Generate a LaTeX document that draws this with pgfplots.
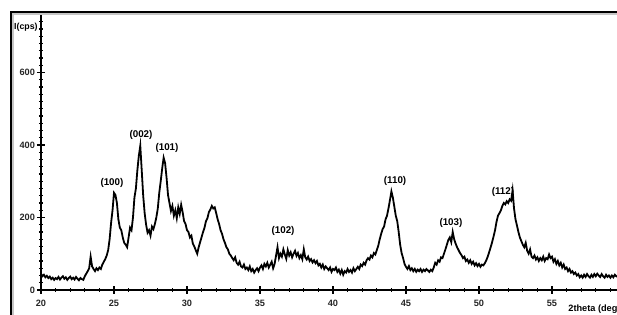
\documentclass[border=0pt]{standalone}
\usepackage{pgfplots}
\pgfplotsset{compat=1.18}
\usepackage{fontspec}
\setmainfont{Liberation Sans}
\begin{document}
\begin{tikzpicture}
\useasboundingbox (0,0) rectangle (308.5pt,157.5pt);
\clip (0,0) rectangle (308.5pt,157.5pt);
% outer frame
\draw[gray!45, line width=1pt] (6.7pt,-5pt) -- (6.7pt,150.3pt) -- (320pt,150.3pt);
\draw[black, line width=1.1pt] (5.5pt,-5pt) -- (5.5pt,151.5pt) -- (320pt,151.5pt);
\begin{axis}[
  at={(20.5pt,12.5pt)}, anchor=south west,
  scale only axis, width=292pt, height=137.75pt,
  xmin=20, xmax=60, ymin=0, ymax=760,
  axis x line=bottom, axis y line=left,
  axis line style={-, line width=0.8pt},
  xtick={20,25,...,55}, ytick={0,200,400,600},
  minor xtick={21,22,23,24,26,27,28,29,31,32,33,34,36,37,38,39,41,42,43,44,46,47,48,49,51,52,53,54,56,57,58,59},
  minor ytick={20,40,...,740},
  tick align=center,
  major tick length=4pt, minor tick length=2pt,
  every tick/.style={black, line width=0.6pt},
  tick label style={font=\fontsize{4.6}{5.5}\selectfont\bfseries, black!85},
  /pgf/number format/assume math mode=true,
  xticklabel style={yshift=0.5pt},
  yticklabel style={xshift=2.5pt},
  clip=false,
]
\addplot[black, line width=0.9pt] coordinates {
(20.0,45) (20.1,38) (20.2,42) (20.3,35) (20.4,39) (20.5,33) (20.6,37) (20.7,30) (20.8,34) (20.9,28)
(21.0,33) (21.1,30) (21.2,36) (21.3,29) (21.4,34) (21.5,38) (21.6,31) (21.7,35) (21.8,28) (21.9,33)
(22.0,37) (22.1,30) (22.2,34) (22.3,29) (22.4,36) (22.5,31) (22.6,27) (22.7,33) (22.8,30) (22.9,28)
(23.0,38) (23.1,45) (23.2,52) (23.3,60) (23.4,92) (23.5,65) (23.6,58) (23.7,52) (23.8,60) (23.9,55)
(24.0,62) (24.1,58) (24.2,70) (24.3,78) (24.4,85) (24.5,95) (24.6,110) (24.7,140) (24.8,185) (24.9,220)
(25.0,268) (25.1,262) (25.2,240) (25.3,195) (25.4,172) (25.5,165) (25.6,145) (25.7,130) (25.8,125) (25.9,118)
(26.0,145) (26.1,172) (26.2,165) (26.3,200) (26.4,255) (26.5,280) (26.6,330) (26.7,370) (26.8,398) (26.9,330)
(27.0,260) (27.1,212) (27.2,180) (27.3,158) (27.4,165) (27.5,150) (27.6,175) (27.7,168) (27.8,182) (27.9,200)
(28.0,225) (28.1,268) (28.2,300) (28.3,335) (28.4,365) (28.5,350) (28.6,310) (28.7,262) (28.8,240) (28.9,218)
(29.0,232) (29.1,205) (29.2,220) (29.3,198) (29.4,228) (29.5,210) (29.6,235) (29.7,215) (29.8,190) (29.9,182)
(30.0,165) (30.1,160) (30.2,145) (30.3,150) (30.4,128) (30.5,120) (30.6,110) (30.7,100) (30.8,118) (30.9,132)
(31.0,146) (31.1,160) (31.2,172) (31.3,190) (31.4,198) (31.5,215) (31.6,222) (31.7,232) (31.8,225) (31.9,228)
(32.0,212) (32.1,195) (32.2,182) (32.3,165) (32.4,155) (32.5,140) (32.6,130) (32.7,118) (32.8,112) (32.9,100)
(33.0,95) (33.1,88) (33.2,82) (33.3,90) (33.4,75) (33.5,70) (33.6,78) (33.7,65) (33.8,62) (33.9,70)
(34.0,58) (34.1,62) (34.2,55) (34.3,65) (34.4,52) (34.5,58) (34.6,48) (34.7,55) (34.8,60) (34.9,52)
(35.0,62) (35.1,68) (35.2,58) (35.3,72) (35.4,65) (35.5,75) (35.6,62) (35.7,70) (35.8,78) (35.9,60)
(36.0,72) (36.1,95) (36.2,118) (36.3,88) (36.4,100) (36.5,92) (36.6,112) (36.7,98) (36.8,86) (36.9,110)
(37.0,95) (37.1,104) (37.2,90) (37.3,100) (37.4,108) (37.5,94) (37.6,102) (37.7,88) (37.8,96) (37.9,85)
(38.0,112) (38.1,90) (38.2,84) (38.3,92) (38.4,80) (38.5,85) (38.6,76) (38.7,82) (38.8,74) (38.9,80)
(39.0,68) (39.1,72) (39.2,62) (39.3,70) (39.4,58) (39.5,65) (39.6,60) (39.7,55) (39.8,62) (39.9,50)
(40.0,58) (40.1,55) (40.2,62) (40.3,50) (40.4,56) (40.5,45) (40.6,55) (40.7,42) (40.8,52) (40.9,48)
(41.0,58) (41.1,50) (41.2,55) (41.3,48) (41.4,60) (41.5,52) (41.6,58) (41.7,64) (41.8,58) (41.9,70)
(42.0,66) (42.1,75) (42.2,70) (42.3,82) (42.4,88) (42.5,84) (42.6,95) (42.7,90) (42.8,102) (42.9,98)
(43.0,110) (43.1,122) (43.2,140) (43.3,155) (43.4,168) (43.5,175) (43.6,195) (43.7,205) (43.8,225) (43.9,248)
(44.0,272) (44.1,255) (44.2,230) (44.3,205) (44.4,190) (44.5,160) (44.6,125) (44.7,102) (44.8,88) (44.9,72)
(45.0,64) (45.1,58) (45.2,66) (45.3,55) (45.4,60) (45.5,52) (45.6,58) (45.7,50) (45.8,56) (45.9,52)
(46.0,58) (46.1,50) (46.2,56) (46.3,52) (46.4,58) (46.5,54) (46.6,50) (46.7,56) (46.8,52) (46.9,62)
(47.0,75) (47.1,70) (47.2,82) (47.3,78) (47.4,90) (47.5,88) (47.6,100) (47.7,112) (47.8,125) (47.9,138)
(48.0,145) (48.1,132) (48.2,160) (48.3,140) (48.4,128) (48.5,118) (48.6,110) (48.7,102) (48.8,96) (48.9,88)
(49.0,92) (49.1,80) (49.2,84) (49.3,75) (49.4,82) (49.5,72) (49.6,78) (49.7,68) (49.8,74) (49.9,66)
(50.0,72) (50.1,64) (50.2,70) (50.3,68) (50.4,74) (50.5,82) (50.6,92) (50.7,105) (50.8,118) (50.9,132)
(51.0,148) (51.1,165) (51.2,188) (51.3,205) (51.4,212) (51.5,220) (51.6,232) (51.7,240) (51.8,236) (51.9,245)
(52.0,240) (52.1,250) (52.2,246) (52.3,275) (52.4,225) (52.5,195) (52.6,178) (52.7,160) (52.8,145) (52.9,135)
(53.0,125) (53.1,118) (53.2,130) (53.3,108) (53.4,100) (53.5,112) (53.6,92) (53.7,88) (53.8,95) (53.9,84)
(54.0,90) (54.1,80) (54.2,88) (54.3,82) (54.4,92) (54.5,80) (54.6,88) (54.7,85) (54.8,98) (54.9,88)
(55.0,92) (55.1,78) (55.2,85) (55.3,72) (55.4,80) (55.5,68) (55.6,75) (55.7,62) (55.8,70) (55.9,58)
(56.0,62) (56.1,52) (56.2,58) (56.3,48) (56.4,52) (56.5,44) (56.6,48) (56.7,40) (56.8,44) (56.9,35)
(57.0,40) (57.1,34) (57.2,42) (57.3,36) (57.4,44) (57.5,38) (57.6,34) (57.7,42) (57.8,36) (57.9,44)
(58.0,38) (58.1,45) (58.2,40) (58.3,36) (58.4,44) (58.5,38) (58.6,34) (58.7,42) (58.8,36) (58.9,40)
(59.0,34) (59.1,40) (59.2,35) (59.3,42) (59.4,38) (59.5,36) (59.6,40) (59.7,37) (59.8,38) (59.9,36)
(60.0,38)
};
\begin{scope}[every node/.style={font=\fontsize{4.9}{6}\selectfont\bfseries}]
\node at (axis cs:24.86,295) {(100)};
\node at (axis cs:26.85,428) {(002)};
\node at (axis cs:28.63,392) {(101)};
\node at (axis cs:36.58,163) {(102)};
\node at (axis cs:44.25,301) {(110)};
\node at (axis cs:48.08,185) {(103)};
\node at (axis cs:51.64,270) {(112)};
\end{scope}
\end{axis}
\node[font=\fontsize{4.4}{5.5}\selectfont\bfseries, anchor=east, inner sep=0pt] at (19pt,144pt) {I(cps)};
\node[font=\fontsize{4.6}{5.5}\selectfont\bfseries, anchor=west, inner sep=0pt] at (284pt,2.8pt) {2theta (degrees)};
\end{tikzpicture}
\end{document}
